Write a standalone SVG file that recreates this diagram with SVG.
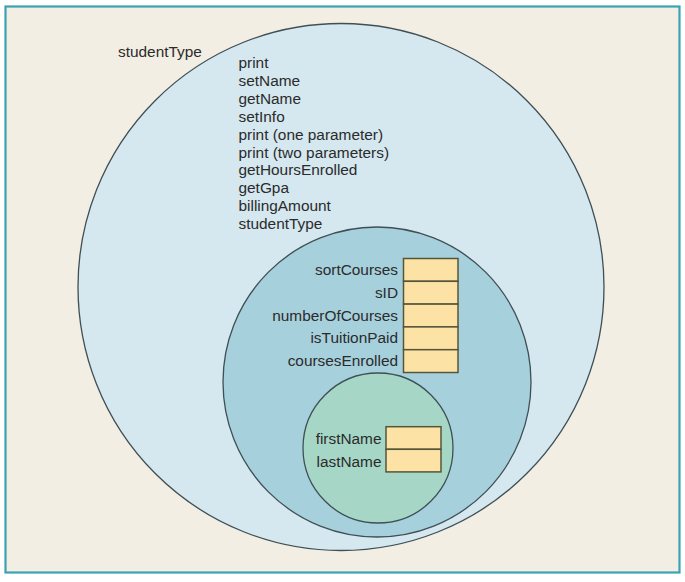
<svg xmlns="http://www.w3.org/2000/svg" width="685" height="582" viewBox="0 0 685 582">
<style>
  .t { font-family: "Liberation Sans", Arial, sans-serif; font-size: 15.4px; fill: #2b2b2b; }
  .r { text-anchor: end; }
  .ell { stroke: #3f4f55; stroke-width: 1.3; }
  .box { fill: #fde2a6; stroke: #55553a; stroke-width: 1.5; }
</style>
<rect x="0" y="0" width="685" height="582" fill="#ffffff"/>
<rect id="frame" x="5.5" y="6.5" width="674" height="566" fill="#f3eee3" stroke="#3aa3b3" stroke-width="2.2"/>
<g id="outer">
  <ellipse class="ell" cx="341" cy="287" rx="263" ry="263.5" fill="#d5e7ef"/>
  <text class="t" x="118" y="57">studentType</text>
  <text class="t" x="238.5" y="68">print</text>
  <text class="t" x="238.5" y="85.9">setName</text>
  <text class="t" x="238.5" y="103.8">getName</text>
  <text class="t" x="238.5" y="121.7">setInfo</text>
  <text class="t" x="238.5" y="139.6">print (one parameter)</text>
  <text class="t" x="238.5" y="157.5">print (two parameters)</text>
  <text class="t" x="238.5" y="175.4">getHoursEnrolled</text>
  <text class="t" x="238.5" y="193.3">getGpa</text>
  <text class="t" x="238.5" y="211.2">billingAmount</text>
  <text class="t" x="238.5" y="229.1">studentType</text>
</g>
<g id="middle">
  <ellipse class="ell" cx="377" cy="382" rx="154" ry="155" fill="#a6d0dc"/>
  <rect class="box" x="403.5" y="258.5" width="54.5" height="22.8"/>
  <rect class="box" x="403.5" y="281.3" width="54.5" height="22.8"/>
  <rect class="box" x="403.5" y="304.1" width="54.5" height="22.8"/>
  <rect class="box" x="403.5" y="326.9" width="54.5" height="22.8"/>
  <rect class="box" x="403.5" y="349.7" width="54.5" height="22.8"/>
  <text class="t r" x="398" y="275">sortCourses</text>
  <text class="t r" x="398" y="297.8">sID</text>
  <text class="t r" x="398" y="320.6">numberOfCourses</text>
  <text class="t r" x="398" y="343.4">isTuitionPaid</text>
  <text class="t r" x="398" y="366.2">coursesEnrolled</text>
</g>
<g id="inner">
  <ellipse class="ell" cx="378" cy="448" rx="75" ry="75" fill="#a6d7c6"/>
  <rect class="box" x="386" y="426.7" width="55" height="22.6"/>
  <rect class="box" x="386" y="449.3" width="55" height="22.6"/>
  <text class="t r" x="381.5" y="444">firstName</text>
  <text class="t r" x="381.5" y="466.5">lastName</text>
</g>
<g id="connectors"></g>
</svg>
